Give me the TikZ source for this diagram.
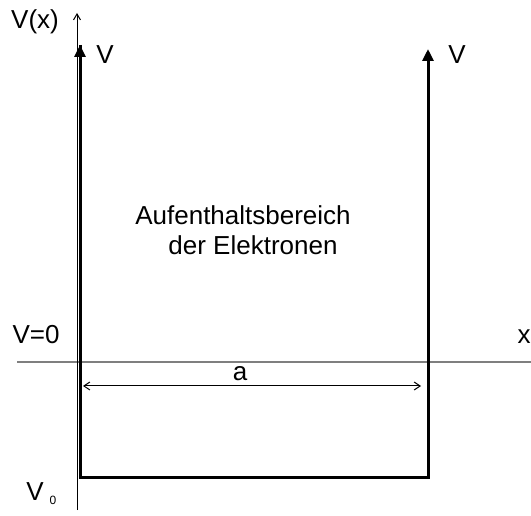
\documentclass[tikz,border=0pt]{standalone}
\usepackage{fontspec}
\setmainfont{Liberation Sans}
\usetikzlibrary{arrows.meta}
\definecolor{WellInk}{HTML}{000000}
\definecolor{WellAxisGray}{HTML}{7F7F7F}

\begin{document}
\begin{tikzpicture}[x=1pt,y=1pt,
    lbl/.style={WellInk, inner sep=0pt, font=\fontsize{26pt}{30pt}\selectfont},
    wall/.style={WellInk, line width=3pt, line join=miter, -{Triangle[length=12pt,width=11pt]}},
    axisline/.style={WellInk, line width=1pt, -{Straight Barb[length=6pt,width=7pt]}}]
        \useasboundingbox (0,0) rectangle (531,515);
        % axes
        \coordinate (ybot) at (77,5);
        \coordinate (ytop) at (77,502);
        \coordinate (xl) at (17,153);
        \coordinate (xr) at (531,153);
        \draw[WellAxisGray, line width=1.5pt] (xl) -- (xr);
        \draw[axisline] (ybot) -- (ytop);
        % potential well
        \coordinate (lt) at (80,470);
        \coordinate (lb) at (80,38);
        \coordinate (rb) at (428,38);
        \coordinate (rt) at (428,466);
        \draw[wall] (lt) -- (lb) -- (rb) -- (rt);
        \draw[wall] (lb) -- (lt);
        % width a
        \coordinate (al) at (83,129);
        \coordinate (ar) at (421,129);
        \draw[WellInk, line width=1pt, {Straight Barb[length=6pt,width=8pt]}-{Straight Barb[length=6pt,width=8pt]}] (al) -- (ar);
        \node[lbl] (alabel) at (240,141) {a};
        % labels
        \node[lbl] (vx) at (35,493) {V(x)};
        \node[lbl] (vleft) at (105,460) {V};
        \node[lbl] (vright) at (457,460) {V};
        \node[lbl] (vzero) at (36,180) {V=0};
        \node[lbl] (xlabel) at (524,178) {x};
        \node[lbl] (vnull) at (35,23) {V};
        \node[WellInk, inner sep=0pt, font=\fontsize{12pt}{14pt}\selectfont] (vnullsub) at (53,15) {0};
        \node[lbl] (region1) at (243,300) {Aufenthaltsbereich};
        \node[lbl] (region2) at (253,270) {der Elektronen};
\end{tikzpicture}
\end{document}
